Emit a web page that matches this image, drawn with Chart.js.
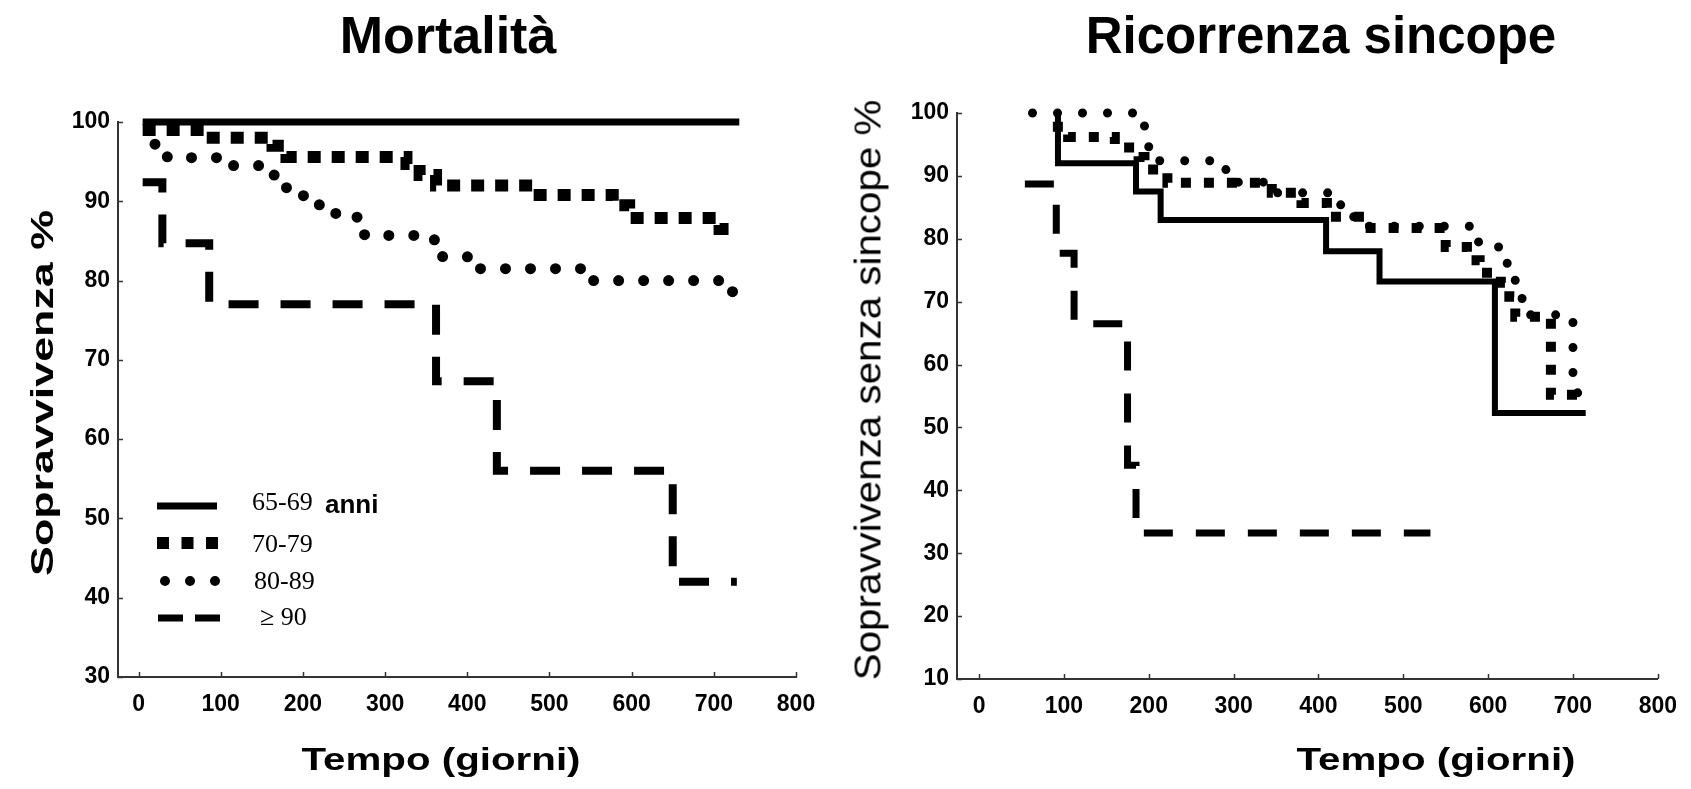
<!DOCTYPE html>
<html>
<head>
<meta charset="utf-8">
<script src="https://cdn.jsdelivr.net/npm/chart.js@4.4.1/dist/chart.umd.min.js"></script>
<style>
  html, body { margin: 0; padding: 0; background: #fff; width: 1691px; height: 789px; overflow: hidden; }
  body { position: relative; font-family: "Liberation Sans", Arial, sans-serif; }
  .box { position: absolute; top: 0; height: 789px; }
  .lbl { position: absolute; white-space: nowrap; line-height: 1; color: #000; }
</style>
</head>
<body>
<div class="box" style="left:0;width:840px"><canvas id="mortChart"></canvas></div>
<div class="box" style="left:840px;width:851px"><canvas id="syncChart"></canvas></div>

<div class="lbl" style="left:448px;top:9px;font-size:52px;font-weight:bold;transform:translateX(-50%)">Mortalità</div>
<div class="lbl" style="left:1321px;top:10px;font-size:51px;font-weight:bold;transform:translateX(-50%)">Ricorrenza sincope</div>
<div class="lbl" style="left:441px;top:744px;font-size:31px;font-weight:bold;transform:translateX(-50%) scaleX(1.3)">Tempo (giorni)</div>
<div class="lbl" style="left:1436px;top:744px;font-size:31px;font-weight:bold;transform:translateX(-50%) scaleX(1.3)">Tempo (giorni)</div>
<div class="lbl" style="left:42px;top:393px;font-size:32px;font-weight:bold;transform:translate(-50%,-50%) rotate(-90deg) scaleX(1.4)">Sopravvivenza %</div>
<div class="lbl" style="left:868px;top:390px;font-size:37px;transform:translate(-50%,-50%) rotate(-90deg) scaleX(1.09)">Sopravvivenza senza sincope %</div>

<script>
// Assi
const dayTicks = [0, 100, 200, 300, 400, 500, 600, 700, 800]
const mortTicks = [30, 40, 50, 60, 70, 80, 90, 100]
const syncTicks = [10, 20, 30, 40, 50, 60, 70, 80, 90, 100]

// Fasce d'età
const ageGroups = ["65-69", "70-79", "80-89", "≥ 90"]
const ageUnit = "anni"

// Mortalità : [giorni, sopravvivenza %]
const mort6569 = [[5, 100], [731, 100]]
const mort7079 = [[5, 99], [80, 98], [163, 97], [180, 95.6], [326, 94.7], [342, 93.3], [362, 92], [480, 90.8], [577, 89.5], [597, 87.9], [707, 86.5], [718, 86.5]]
const mort8089 = [[20, 97.2], [35, 95.5], [115, 94.5], [165, 93], [180, 91.4], [200, 90.7], [220, 89.5], [240, 88.3], [262, 88], [275, 85.7], [360, 85.1], [370, 83], [415, 81.5], [553, 80], [722, 78.6], [728, 78.6]]
const mort90 = [[5, 92.4], [29, 84.7], [86, 77], [362, 67.3], [436, 56], [650, 42], [728, 42]]

// Ricorrenza sincope : [giorni, sopravvivenza senza sincope %]
const sync6569 = [[93, 100], [93, 92], [185, 87.5], [214, 83], [409, 78], [472, 73.2], [608, 52.3], [715, 52.3]]
const sync7079 = [[87, 97.8], [105, 96.2], [160, 94.5], [188, 93], [195, 91], [222, 88.9], [345, 87.3], [380, 85.7], [410, 83.5], [455, 81.7], [550, 78.7], [575, 76.6], [590, 74.6], [615, 73], [625, 70.8], [632, 67.6], [674, 55.2], [712, 55.2]]
const sync8089 = [[63, 100], [195, 97.7], [200, 94.6], [210, 92.4], [285, 91], [300, 89], [350, 87.3], [420, 85.4], [440, 83.5], [455, 82], [585, 79.5], [610, 78.7], [620, 76.1], [628, 73.4], [634, 70.6], [640, 67.9], [698, 66.8], [700, 55.5], [712, 55.5]]
const sync90 = [[54, 88.7], [91, 77.7], [112, 66.5], [175, 44], [185, 33.2], [532, 33.2]]

const FONT = "'Liberation Sans', Arial, sans-serif"
const SERIF = "'Liberation Serif', 'Times New Roman', serif"

// Stili delle linee (continua, quadratini, puntini, tratteggio)
const mortStyles = [
  { borderWidth: 7, borderDash: [], borderCapStyle: "butt" },
  { borderWidth: 12, borderDash: [13, 11], borderCapStyle: "butt" },
  { borderWidth: 11, borderDash: [0, 25], borderCapStyle: "round" },
  { borderWidth: 8, borderDash: [30, 22], borderCapStyle: "butt" }
]
const syncStyles = [
  { borderWidth: 6, borderDash: [], borderCapStyle: "butt" },
  { borderWidth: 10, borderDash: [10, 13], borderCapStyle: "butt" },
  { borderWidth: 9, borderDash: [0, 25], borderCapStyle: "round" },
  { borderWidth: 7, borderDash: [29, 23], borderCapStyle: "butt" }
]

function makeDataset(label, points, style) {
  return {
    label,
    data: points.map(([x, y]) => ({ x, y })),
    borderColor: "#000",
    pointRadius: 0,
    stepped: true,
    fill: false,
    clip: false, // la curva a 100 sta proprio sul bordo alto
    borderJoinStyle: "miter",
    ...style
  }
}

function makeScales(xMin, yMin, yTicks, yWidth, xHeight) {
  const tickFont = { family: FONT, size: 23, weight: "bold" }
  return {
    x: {
      type: "linear", min: xMin, max: 800,
      afterBuildTicks: s => { s.ticks = dayTicks.map(v => ({ value: v })) },
      afterFit: s => { s.height = xHeight },
      grid: { drawOnChartArea: false, drawTicks: false },
      border: { color: "#333", width: 2 },
      ticks: { color: "#000", font: tickFont, padding: 14, maxRotation: 0, autoSkip: false }
    },
    y: {
      type: "linear", min: yMin, max: 100,
      afterBuildTicks: s => { s.ticks = yTicks.map(v => ({ value: v })) },
      afterFit: s => { s.width = yWidth },
      grid: { drawOnChartArea: false, drawTicks: false },
      border: { color: "#333", width: 2 },
      ticks: { color: "#000", font: tickFont, padding: 8, autoSkip: false }
    }
  }
}

// Piccole tacche verso l'interno
const innerTicks = {
  id: "innerTicks",
  afterDraw(chart) {
    const { ctx, chartArea, scales } = chart
    ctx.save()
    ctx.strokeStyle = "#333"
    ctx.lineWidth = 1.5
    ctx.setLineDash([])
    ctx.beginPath()
    scales.x.ticks.forEach(t => {
      const px = Math.round(scales.x.getPixelForValue(t.value)) + 0.5
      ctx.moveTo(px, chartArea.bottom)
      ctx.lineTo(px, chartArea.bottom - 5)
    })
    scales.y.ticks.forEach(t => {
      const py = Math.round(scales.y.getPixelForValue(t.value)) + 0.5
      ctx.moveTo(chartArea.left, py)
      ctx.lineTo(chartArea.left + 5, py)
    })
    ctx.stroke()
    ctx.restore()
  }
}

// Legenda dentro il grafico della mortalità
const legendRows = [506, 543, 581, 618]
const legendSamples = [
  { x0: 157, x1: 217, width: 7, dash: [], cap: "butt" },
  { x0: 157, x1: 218, width: 12, dash: [12, 12.5], cap: "butt" },
  { x0: 165, x1: 216, width: 10, dash: [0, 25], cap: "round" },
  { x0: 158, x1: 220, width: 7, dash: [25, 12], cap: "butt" }
]
const ageLegend = {
  id: "ageLegend",
  afterDraw(chart) {
    const ctx = chart.ctx
    ctx.save()
    ctx.strokeStyle = "#000"
    ctx.fillStyle = "#000"
    chart.data.datasets.forEach((ds, i) => {
      const s = legendSamples[i]
      const y = legendRows[i]
      ctx.beginPath()
      ctx.lineWidth = s.width
      ctx.lineCap = s.cap
      ctx.setLineDash(s.dash)
      ctx.moveTo(s.x0, y)
      ctx.lineTo(s.x1, y)
      ctx.stroke()

      ctx.textBaseline = "alphabetic"
      ctx.textAlign = "left"
      ctx.font = "26px " + SERIF
      const tx = i === 3 ? 260 : (i === 2 ? 254 : 252)
      const baseline = [510, 552, 589, 625][i]
      ctx.fillText(ds.label, tx, baseline)
      if (i === 0) {
        ctx.font = "bold 26px " + FONT
        ctx.fillText(ageUnit, 325, 513)
      }
    })
    ctx.restore()
  }
}

function baseOptions(padding, scales) {
  return {
    responsive: true,
    maintainAspectRatio: false,
    animation: false,
    devicePixelRatio: 1,
    events: [],
    layout: { padding },
    plugins: { legend: { display: false }, tooltip: { enabled: false }, title: { display: false } },
    scales
  }
}

new Chart(document.getElementById("mortChart"), {
  type: "line",
  data: {
    datasets: [mort6569, mort7079, mort8089, mort90].map((pts, i) => makeDataset(ageGroups[i], pts, mortStyles[i]))
  },
  options: baseOptions({ top: 122, right: 44, left: 0, bottom: 0 }, makeScales(-25, 30, mortTicks, 118, 112)),
  plugins: [innerTicks, ageLegend]
})

new Chart(document.getElementById("syncChart"), {
  type: "line",
  data: {
    datasets: [sync6569, sync7079, sync8089, sync90].map((pts, i) => makeDataset(ageGroups[i], pts, syncStyles[i]))
  },
  options: baseOptions({ top: 113, right: 29, left: 0, bottom: 0 }, makeScales(-26, 10, syncTicks, 117, 110)),
  plugins: [innerTicks]
})
</script>
</body>
</html>
